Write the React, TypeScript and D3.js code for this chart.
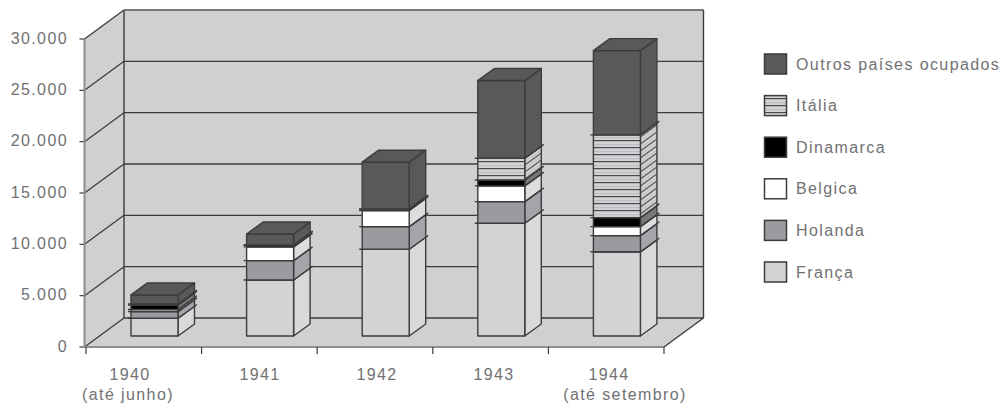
import React from "react";
import * as d3 from "d3";

const years = ["1940", "1941", "1942", "1943", "1944"];
const yearNotes = ["(até junho)", "", "", "", "(até setembro)"];
const yearLabelX = [130, 260, 377, 494, 609];
const noteLabelX = [128, 0, 0, 0, 625];

const franca = [1725, 5460, 8450, 10980, 8200];
const holanda = [645, 1880, 2200, 2110, 1580];
const belgica = [210, 1340, 1580, 1530, 870];
const dinamarca = [440, 190, 130, 580, 880];
const italia = [100, 0, 20, 2120, 8060];
const outros = [880, 1070, 4550, 7560, 8210];

const seriesKeys = ["França", "Holanda", "Belgica", "Dinamarca", "Itália", "Outros países ocupados"];
const seriesValues = [franca, holanda, belgica, dinamarca, italia, outros];
const seriesFills = ["#d2d3d5", "#9a9b9e", "#ffffff", "#000000", "url(#stripes)", "#58595b"];
const sideFills = ["#d8d9db", "#a4a5a8", "#dcdddf", "#77787a", "url(#stripesSide)", "#58595b"];
const valueTicks = [0, 5000, 10000, 15000, 20000, 25000, 30000];

const wallFill = "#cfd0d2";
const ink = "#3c3c3e";
const textInk = "#717173";
const font = "'Liberation Sans', Arial, sans-serif";

const floorDx = 39.5;
const floorDy = 29;
const barDx = 16.5;
const barDy = 12;
const barWidth = 47;
const barInset = 45;
const barLift = 11;

const W = 1003;
const H = 407;

const y = d3.scaleLinear().domain([0, 30000]).range([347, 39]);
const band = d3.scaleBand<string>().domain(years).range([86, 664]).padding(0);
const left = 84.5;
const right = 664;

const rows = years.map((yr, i) => {
  const row: Record<string, number | string> = { year: yr };
  seriesKeys.forEach((k, s) => (row[k] = seriesValues[s][i]));
  return row;
});
const stacked = d3.stack<any>().keys(seriesKeys)(rows);

const poly = (pts: [number, number][]) => pts.map((p) => p.join(",")).join(" ");

const textProps = {
  fontFamily: font,
  fontSize: 16,
  letterSpacing: 1.4,
  fill: textInk,
};

export default function App() {
  const legendOrder = d3.range(seriesKeys.length).reverse();
  return (
    <svg
      width={W}
      height={H}
      viewBox={`0 0 ${W} ${H}`}
      style={{ position: "absolute", left: 0, top: 0, display: "block", background: "#fff" }}
    >
      <defs>
        <pattern id="stripes" width="7" height="7" patternUnits="userSpaceOnUse">
          <rect width="7" height="7" fill="#d2d3d5" />
          <rect y="0" width="7" height="1.2" fill="#4a4a4c" />
          <rect y="4" width="7" height="1.2" fill="#bdbec1" />
        </pattern>
        <pattern
          id="stripesSide"
          width="7"
          height="7"
          patternUnits="userSpaceOnUse"
          patternTransform={`skewY(${(-Math.atan2(barDy, barDx) * 180) / Math.PI})`}
        >
          <rect width="7" height="7" fill="#d2d3d5" />
          <rect y="0" width="7" height="1.4" fill="#4a4a4c" />
          <rect y="4" width="7" height="1.2" fill="#bdbec1" />
        </pattern>
      </defs>

      {/* Walls and floor of the 3D box */}
      <polygon
        points={poly([
          [left, y(30000)],
          [left + floorDx, y(30000) - floorDy],
          [right + floorDx, y(30000) - floorDy],
          [right + floorDx, y(0) - floorDy],
          [right, y(0)],
          [left, y(0)],
        ])}
        fill={wallFill}
      />

      {valueTicks.map((t) => (
        <g key={t}>
          <line
            x1={left + floorDx}
            x2={right + floorDx}
            y1={y(t) - floorDy}
            y2={y(t) - floorDy}
            stroke={t === 30000 ? "#77787a" : ink}
            strokeWidth={t === 30000 ? 2 : 1.3}
          />
          <line
            x1={left}
            x2={left + floorDx}
            y1={y(t)}
            y2={y(t) - floorDy}
            stroke={ink}
            strokeWidth={1.3}
          />
          <line x1={left - 5} x2={left} y1={y(t)} y2={y(t)} stroke={ink} strokeWidth={1.2} />
          <text {...textProps} x={68} y={y(t) - 1} dominantBaseline="central" textAnchor="end">
            {d3.format(",")(t).replace(/,/g, ".")}
          </text>
        </g>
      ))}

      <line x1={left + floorDx} x2={left + floorDx} y1={y(30000) - floorDy} y2={y(0) - floorDy} stroke={ink} strokeWidth={1.4} />
      <line x1={right + floorDx} x2={right + floorDx} y1={y(30000) - floorDy} y2={y(0) - floorDy} stroke={ink} strokeWidth={1.4} />
      <line x1={right} x2={right + floorDx} y1={y(0)} y2={y(0) - floorDy} stroke={ink} strokeWidth={1.4} />
      <line x1={left} x2={left} y1={y(30000)} y2={y(0)} stroke="#8d8e91" strokeWidth={2} />
      <line x1={left} x2={right} y1={y(0)} y2={y(0)} stroke="#8d8e91" strokeWidth={2} />

      {/* Category ticks along the front edge */}
      {[...years.map((yr) => band(yr) as number), right].map((tx) => (
        <line key={tx} x1={tx} x2={tx} y1={y(0)} y2={y(0) + 7} stroke={ink} strokeWidth={1.2} />
      ))}

      {/* Stacked 3D bars */}
      {years.map((yr, i) => {
        const x0 = (band(yr) as number) + barInset;
        const x1 = x0 + barWidth;
        const topValue = y(stacked[stacked.length - 1][i][1]) - barLift;
        return (
          <g key={yr} stroke={ink} strokeWidth={1.4} strokeLinejoin="round">
            {stacked.map((layer, s) => {
              const yb = y(layer[i][0]) - barLift;
              const yt = y(layer[i][1]) - barLift;
              return (
                <g key={layer.key}>
                  <polygon
                    points={poly([
                      [x1, yb],
                      [x1 + barDx, yb - barDy],
                      [x1 + barDx, yt - barDy],
                      [x1, yt],
                    ])}
                    fill={sideFills[s]}
                  />
                  <rect x={x0} y={yt} width={barWidth} height={yb - yt} fill={seriesFills[s]} />
                  {s < stacked.length - 1 && (
                    <path
                      d={`M${x0 - 3},${yt}H${x1}L${x1 + barDx + 2.5},${yt - barDy - 1.8}`}
                      fill="none"
                    />
                  )}
                </g>
              );
            })}
            <polygon
              points={poly([
                [x0, topValue],
                [x0 + barDx, topValue - barDy],
                [x1 + barDx, topValue - barDy],
                [x1, topValue],
              ])}
              fill={seriesFills[seriesFills.length - 1]}
            />
          </g>
        );
      })}

      {/* Category labels */}
      {years.map((yr, i) => (
        <g key={yr}>
          <text {...textProps} x={yearLabelX[i]} y={380} textAnchor="middle">
            {yr}
          </text>
          {yearNotes[i] && (
            <text {...textProps} x={noteLabelX[i]} y={400} textAnchor="middle">
              {yearNotes[i]}
            </text>
          )}
        </g>
      ))}

      {/* Legend */}
      {legendOrder.map((s, row) => {
        const cy = 64 + row * 41.6;
        return (
          <g key={s}>
            <rect
              x={764.5}
              y={cy - 10}
              width={22}
              height={20}
              fill={seriesFills[s]}
              stroke={ink}
              strokeWidth={1.5}
            />
            <text {...textProps} x={796} y={cy} dominantBaseline="central">
              {seriesKeys[s]}
            </text>
          </g>
        );
      })}
    </svg>
  );
}
